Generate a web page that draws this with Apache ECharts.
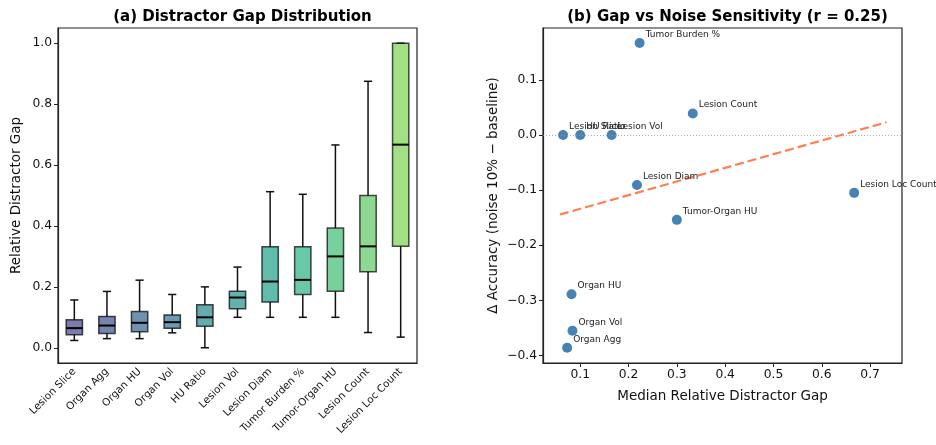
<!DOCTYPE html>
<html><head><meta charset="utf-8">
<script src="https://cdn.jsdelivr.net/npm/echarts@6/dist/echarts.min.js"></script>
<style>html,body{margin:0;padding:0;background:#fff}#c{width:936px;height:445px}</style>
</head><body><div id="c"></div>
<script>
// ---- data ----
const categories = ['Lesion Slice','Organ Agg','Organ HU','Organ Vol','HU Ratio','Lesion Vol','Lesion Diam','Tumor Burden %','Tumor-Organ HU','Lesion Count','Lesion Loc Count'];
const whiskerLow  = [0.024, 0.030, 0.030, 0.049, 0.000, 0.100, 0.100, 0.100, 0.100, 0.050, 0.035];
const q1          = [0.043, 0.047, 0.053, 0.064, 0.071, 0.128, 0.150, 0.175, 0.186, 0.250, 0.333];
const medians     = [0.0645,0.073, 0.082, 0.084, 0.100, 0.165, 0.2175,0.223, 0.300, 0.333, 0.667];
const q3          = [0.092, 0.103, 0.119, 0.108, 0.141, 0.186, 0.332, 0.332, 0.393, 0.500, 1.000];
const whiskerHigh = [0.157, 0.185, 0.222, 0.175, 0.200, 0.265, 0.5125,0.504, 0.666, 0.875, 1.000];
const deltaAcc    = [0.000, -0.386, -0.289, -0.355, 0.000, 0.000, -0.0906, 0.1667, -0.154, 0.039, -0.105];
const leftTicks   = [0, 0.2, 0.4, 0.6, 0.8, 1.0];
const rightXTicks = [0.1, 0.2, 0.3, 0.4, 0.5, 0.6, 0.7];
const rightYTicks = [-0.4, -0.3, -0.2, -0.1, 0.0, 0.1];
const boxColors = ['#414487','#3b528b','#33638d','#2c728e','#24878e','#21918c','#1fa088','#2ab07f','#3fbc73','#5ec962','#7ad151'];

// least-squares trend from data
const n = medians.length;
const mx = medians.reduce((a,b)=>a+b,0)/n, my = deltaAcc.reduce((a,b)=>a+b,0)/n;
let sxy=0, sxx=0; for(let i=0;i<n;i++){sxy+=(medians[i]-mx)*(deltaAcc[i]-my); sxx+=(medians[i]-mx)**2;}
const slope = sxy/sxx, icpt = my - slope*mx;
const tx0 = Math.min(...medians)*0.9, tx1 = Math.max(...medians)*1.1;
const trend = [[tx0, icpt+slope*tx0],[tx1, icpt+slope*tx1]];

const FONT = 'DejaVu Sans';
const fmtMinus = v => (Math.abs(v)<1e-9?'0.0':v.toFixed(1)).replace('-','\u2212');

const chart = echarts.init(document.getElementById('c'), null, {renderer:'canvas'});
const boxData = categories.map((c,i)=>[i, whiskerLow[i], q1[i], medians[i], q3[i], whiskerHigh[i]]);
const axLine = {show:true, onZero:false, lineStyle:{color:'#222',width:1.2}};

chart.setOption({
  animation:false,
  textStyle:{fontFamily:FONT},
  title:[
    {text:'(a) Distractor Gap Distribution', left:237.5, top:5, textAlign:'center',
     textStyle:{fontFamily:FONT,fontSize:15,fontWeight:'bold',color:'#000'}},
    {text:'(b) Gap vs Noise Sensitivity (r = 0.25)', left:722.5, top:5, textAlign:'center',
     textStyle:{fontFamily:FONT,fontSize:15,fontWeight:'bold',color:'#000'}}
  ],
  grid:[
    {left:58, right:519, top:28, bottom:82, show:true, borderColor:'#222', borderWidth:1.2, backgroundColor:'transparent'},
    {left:543, right:34, top:28, bottom:82, show:true, borderColor:'#222', borderWidth:1.2, backgroundColor:'transparent'}
  ],
  xAxis:[
    {type:'category', gridIndex:0, data:categories, boundaryGap:true,
     axisLine:axLine,
     axisTick:{alignWithLabel:true,length:4,lineStyle:{color:'#222'}},
     axisLabel:{interval:0, rotate:45, fontSize:10.3, color:'#111', fontFamily:FONT, margin:7},
     splitLine:{show:false}},
    {type:'value', gridIndex:1, min:0.023, max:0.766,
     axisLine:axLine,
     axisTick:{show:true,length:4,customValues:rightXTicks,lineStyle:{color:'#222'}},
     axisLabel:{customValues:rightXTicks, formatter:v=>v.toFixed(1), fontSize:12.3, color:'#111', fontFamily:FONT, margin:6},
     splitLine:{show:false},
     name:'Median Relative Distractor Gap', nameLocation:'middle', nameGap:26,
     nameTextStyle:{fontSize:13.5,color:'#111',fontFamily:FONT}}
  ],
  yAxis:[
    {type:'value', gridIndex:0, min:-0.05, max:1.05,
     axisLine:axLine,
     axisTick:{show:true,length:4,customValues:leftTicks,lineStyle:{color:'#222'}},
     axisLabel:{customValues:leftTicks, formatter:v=>v.toFixed(1), fontSize:12.3, color:'#111', fontFamily:FONT, margin:6},
     splitLine:{show:false},
     name:'Relative Distractor Gap', nameLocation:'middle', nameGap:35, nameRotate:90,
     nameTextStyle:{fontSize:13.5,color:'#111',fontFamily:FONT}},
    {type:'value', gridIndex:1, min:-0.4136, max:0.194,
     axisLine:axLine,
     axisTick:{show:true,length:4,customValues:rightYTicks,lineStyle:{color:'#222'}},
     axisLabel:{customValues:rightYTicks, formatter:fmtMinus, fontSize:12.3, color:'#111', fontFamily:FONT, margin:6},
     splitLine:{show:false},
     name:'\u0394 Accuracy (noise 10% \u2212 baseline)', nameLocation:'middle', nameGap:43, nameRotate:90,
     nameTextStyle:{fontSize:13.5,color:'#111',fontFamily:FONT}}
  ],
  series:[
    {type:'custom', xAxisIndex:0, yAxisIndex:0, data:boxData, encode:{x:0,y:[1,2,3,4,5]},
     renderItem:function(params, api){
       const i = api.value(0);
       const bw = api.size([1,0])[0]*0.5;
       const lo = api.coord([i, api.value(1)]), b1 = api.coord([i, api.value(2)]), md = api.coord([i, api.value(3)]),
             b3 = api.coord([i, api.value(4)]), hi = api.coord([i, api.value(5)]);
       const cx = lo[0], cw = bw/4;
       const blk = {stroke:'#111', lineWidth:1.5};
       return {type:'group', children:[
         {type:'line', shape:{x1:cx,y1:b1[1],x2:cx,y2:lo[1]}, style:blk},
         {type:'line', shape:{x1:cx,y1:b3[1],x2:cx,y2:hi[1]}, style:blk},
         {type:'line', shape:{x1:cx-cw,y1:lo[1],x2:cx+cw,y2:lo[1]}, style:blk},
         {type:'line', shape:{x1:cx-cw,y1:hi[1],x2:cx+cw,y2:hi[1]}, style:blk},
         {type:'rect', shape:{x:cx-bw/2, y:b3[1], width:bw, height:b1[1]-b3[1]},
          style:{fill:boxColors[i], opacity:0.7, stroke:'#000', lineWidth:1.5}},
         {type:'line', shape:{x1:cx-bw/2,y1:md[1],x2:cx+bw/2,y2:md[1]}, style:{stroke:'#000', lineWidth:2}}
       ]};
     }},
    {type:'line', xAxisIndex:1, yAxisIndex:1, data:trend, showSymbol:false, symbol:'none', z:2,
     lineStyle:{color:'#ff7f50', width:2.2, type:[9,4]},
     markLine:{silent:true, symbol:'none', label:{show:false},
       lineStyle:{color:'#999', width:0.8, type:[1,2]}, data:[{yAxis:0}]}},
    {type:'scatter', xAxisIndex:1, yAxisIndex:1, z:3,
     data:categories.map((c,i)=>({value:[medians[i], deltaAcc[i]], name:c})),
     symbolSize:10, itemStyle:{color:'#4682b4', opacity:1},
     label:{show:true, formatter:p=>p.name, position:[11,1], align:'left', verticalAlign:'bottom',
       fontSize:9, color:'#222', fontFamily:FONT}}
  ]
});
</script></body></html>
